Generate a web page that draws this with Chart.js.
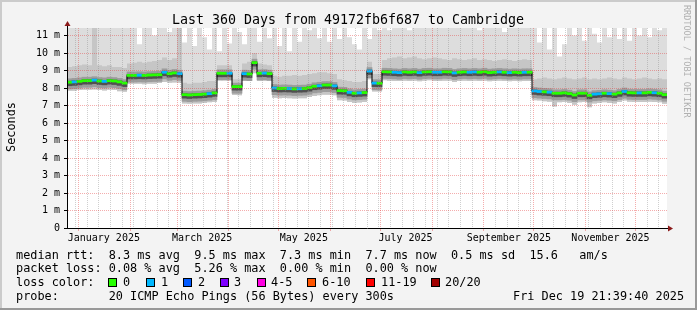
<!DOCTYPE html>
<html>
<head>
<meta charset="utf-8">
<script src="https://cdn.jsdelivr.net/npm/chart.js@4/dist/chart.umd.min.js"></script>
<style>
  html, body { margin: 0; padding: 0; background: #f3f3f3; }
  canvas { display: block; }
</style>
</head>
<body>
<canvas id="smokeChart" width="697" height="310"></canvas>
<script>
// one value per 3-day step, day 0 = Tue Dec 24 2024 21:39
var STEP = 3;

var median = [
  8.33, 8.35, 8.38, 8.42, 8.42, 8.45, 8.40, 8.38, 8.42, 8.40,
  8.35, 8.28, 8.72, 8.72, 8.73, 8.72, 8.74, 8.75, 8.76, 8.90,
  8.82, 8.86, 8.82, 7.62, 7.60, 7.62, 7.63, 7.65, 7.68, 7.72,
  8.84, 8.84, 8.84, 8.08, 8.08, 8.82, 8.80, 9.45, 8.84, 8.85,
  8.82, 8.00, 7.97, 7.98, 7.97, 7.95, 7.96, 7.97, 8.02, 8.10,
  8.13, 8.17, 8.17, 8.12, 7.85, 7.84, 7.75, 7.70, 7.72, 7.74,
  8.97, 8.28, 8.27, 8.93, 8.92, 8.90, 8.88, 8.92, 8.90, 8.92,
  8.88, 8.92, 8.93, 8.90, 8.90, 8.93, 8.92, 8.86, 8.90, 8.92,
  8.90, 8.92, 8.90, 8.93, 8.88, 8.90, 8.92, 8.90, 8.88, 8.90,
  8.88, 8.90, 8.90, 7.83, 7.80, 7.78, 7.76, 7.70, 7.70, 7.72,
  7.68, 7.60, 7.70, 7.70, 7.58, 7.65, 7.67, 7.70, 7.68, 7.65,
  7.72, 7.80, 7.73, 7.72, 7.72, 7.72, 7.75, 7.73, 7.70, 7.62
];

// lost pings per step (0 or 1 of 20)
var loss = [
  0, 1, 0, 0, 0, 1, 0, 1, 0, 0,
  0, 0, 0, 0, 1, 0, 0, 0, 0, 1,
  0, 0, 1, 0, 0, 0, 0, 0, 1, 0,
  0, 0, 1, 0, 0, 1, 0, 0, 0, 1,
  0, 1, 0, 0, 1, 0, 1, 0, 0, 0,
  1, 0, 0, 1, 0, 0, 1, 0, 1, 0,
  1, 1, 0, 0, 0, 1, 1, 0, 0, 0,
  1, 0, 0, 1, 1, 0, 0, 1, 0, 0,
  1, 1, 0, 0, 0, 0, 1, 0, 1, 0,
  0, 1, 0, 1, 1, 0, 1, 0, 0, 0,
  0, 0, 0, 0, 0, 1, 1, 0, 1, 0,
  0, 1, 0, 0, 1, 0, 0, 1, 0, 0
];

var smokeLow = [
  7.85, 7.85, 7.88, 7.90, 7.90, 7.92, 7.88, 7.86, 7.90, 7.88,
  7.82, 7.78, 8.25, 8.25, 8.25, 8.22, 8.25, 8.25, 8.28, 8.35,
  8.30, 8.32, 8.30, 7.12, 7.10, 7.12, 7.12, 7.15, 7.18, 7.20,
  8.45, 8.45, 8.45, 7.60, 7.58, 8.40, 8.40, 8.85, 8.40, 8.42,
  8.40, 7.45, 7.42, 7.43, 7.42, 7.40, 7.42, 7.42, 7.48, 7.55,
  7.58, 7.62, 7.62, 7.58, 7.30, 7.28, 7.20, 7.15, 7.17, 7.20,
  8.50, 7.80, 7.80, 8.45, 8.42, 8.40, 8.40, 8.42, 8.40, 8.42,
  8.38, 8.42, 8.45, 8.40, 8.40, 8.42, 8.42, 8.35, 8.40, 8.42,
  8.40, 8.42, 8.40, 8.42, 8.38, 8.40, 8.42, 8.40, 8.38, 8.40,
  8.38, 8.40, 8.40, 7.30, 7.28, 7.25, 7.22, 6.95, 7.18, 7.20,
  7.15, 7.05, 7.18, 7.20, 6.90, 7.12, 7.15, 7.18, 7.15, 7.12,
  7.20, 7.28, 7.22, 7.20, 7.20, 7.20, 7.22, 7.20, 7.18, 7.10
];

var smokeHigh = [
  9.20, 9.25, 9.30, 9.35, 9.30, 11.50, 9.30, 9.25, 9.30, 9.20,
  9.20, 9.15, 9.40, 9.45, 9.50, 9.45, 9.50, 9.55, 9.60, 9.75,
  9.60, 9.70, 11.50, 8.30, 8.25, 8.30, 8.30, 8.35, 8.40, 8.40,
  9.30, 9.30, 9.30, 8.50, 8.50, 9.40, 9.50, 10.00, 9.40, 9.35,
  9.30, 8.70, 8.65, 8.70, 8.70, 8.75, 8.70, 8.75, 8.80, 8.85,
  8.90, 8.90, 8.85, 8.80, 8.50, 8.45, 8.40, 8.35, 8.35, 8.40,
  9.50, 8.80, 8.80, 9.60, 9.70, 9.75, 9.80, 9.70, 9.75, 9.80,
  9.70, 9.65, 9.70, 9.75, 9.70, 9.65, 9.60, 9.70, 9.65, 9.60,
  9.65, 9.70, 9.60, 9.65, 9.60, 9.55, 9.60, 9.65, 9.60, 9.55,
  9.60, 9.65, 9.60, 8.50, 8.55, 8.60, 8.55, 8.50, 8.55, 8.60,
  8.55, 8.50, 8.55, 8.60, 8.50, 8.55, 8.50, 8.55, 8.60, 8.55,
  8.50, 8.60, 8.55, 8.50, 8.55, 8.60, 8.55, 8.50, 8.55, 8.50
];

// slowest ping per step (values above 11.43 ms run off the top)
var pingMax = [
  12, 12, 12, 12, 12, 12, 12, 12, 12, 12,
  12, 12, 12, 12, 10.5, 12, 12, 11.0, 12, 12,
  11.2, 12, 12, 10.6, 12, 10.4, 12, 10.9, 10.2, 12,
  10.1, 12, 10.55, 12, 11.2, 10.5, 12, 12, 10.65, 12,
  10.85, 12, 10.4, 12, 10.1, 12, 10.65, 12, 11.3, 12,
  10.85, 12, 10.65, 12, 10.8, 12, 10.9, 10.5, 10.2, 12,
  10.8, 12, 11.3, 12, 11.3, 12, 12, 12, 11.3, 12,
  12, 12, 12, 12, 12, 12, 12, 12, 12, 12,
  12, 12, 11.3, 12, 12, 12, 12, 11.2, 12, 12,
  12, 12, 12, 12, 10.6, 12, 10.2, 12, 9.8, 10.5,
  12, 11.0, 12, 10.7, 12, 11.1, 10.6, 12, 10.9, 12,
  10.8, 12, 10.7, 12, 11.0, 12, 10.9, 12, 11.3, 12
];

var monthStarts = [7.1, 38.1, 66.1, 97.1, 127.1, 158.1, 188.1, 219.1, 250.1, 280.1, 311.1, 341.1];
var monthLabelDays = [22.1, 81.1, 142.1, 203.1, 265.1, 326.1];
var monthLabels = ['January 2025', 'March 2025', 'May 2025', 'July 2025', 'September 2025', 'November 2025'];
var firstMonday = 5.1;

var lossColors = ['#26ff00', '#00b8ff'];
var lossLegend = [
  ['0', '#26ff00'], ['1', '#00b8ff'], ['2', '#0059ff'], ['3', '#7e00ff'],
  ['4-5', '#ff00e2'], ['6-10', '#ff5500'], ['11-19', '#ff0000'], ['20/20', '#a10000']
];

var title = 'Last 360 Days from 49172fb6f687 to Cambridge';
var statRows = [
  'median rtt:  8.3 ms avg  9.5 ms max  7.3 ms min  7.7 ms now  0.5 ms sd  15.6   am/s',
  'packet loss: 0.08 % avg  5.26 % max  0.00 % min  0.00 % now'
];
var probeText = 'probe:       20 ICMP Echo Pings (56 Bytes) every 300s';
var stampText = 'Fri Dec 19 21:39:40 2025';

var MONO = '"DejaVu Sans Mono", monospace';
var majorGrid = 'rgba(228, 60, 60, 0.42)';
var minorGrid = 'rgba(140, 140, 140, 0.42)';
var clear = 'rgba(0,0,0,0)';

function steps(values) {
  var pts = values.map(function (v, i) { return {x: i * STEP, y: v}; });
  pts.push({x: values.length * STEP, y: values[values.length - 1]});
  return pts;
}

function band(below, above) {
  return median.map(function (v, i) {
    return {x: i * STEP + STEP / 2, y: [v - below, v + above]};
  });
}

// x ticks: month starts (red), mondays (grey), mid-month label positions
var tickKind = {};
var xTicks = [];
monthStarts.forEach(function (d) { tickKind[d] = 'month'; xTicks.push(d); });
for (var d = firstMonday; d < 360; d += 7) {
  var w = Math.round(d * 10) / 10;
  var nearMonth = monthStarts.some(function (m) { return Math.abs(m - w) < 0.5; });
  if (!nearMonth) { tickKind[w] = 'week'; xTicks.push(w); }
}
var labelAt = {};
monthLabelDays.forEach(function (d, i) { tickKind[d] = 'label'; labelAt[d] = monthLabels[i]; xTicks.push(d); });
xTicks.sort(function (a, b) { return a - b; });

var decor = {
  id: 'decor',
  beforeDraw: function (chart) {
    var c = chart.ctx, a = chart.chartArea, W = chart.width, H = chart.height;
    c.save();
    c.fillStyle = '#f3f3f3';
    c.fillRect(0, 0, W, H);
    c.fillStyle = '#cbcbcb';
    c.fillRect(0, 0, W, 2);
    c.fillRect(0, 0, 2, H);
    c.fillStyle = '#999999';
    c.fillRect(0, H - 2, W, 2);
    c.fillRect(W - 2, 0, 2, H);
    c.fillStyle = '#ffffff';
    c.fillRect(a.left, a.top, a.right - a.left, a.bottom - a.top);
    c.restore();
  },
  afterDraw: function (chart) {
    var c = chart.ctx, a = chart.chartArea;
    c.save();
    // axis extensions and arrows
    c.strokeStyle = '#000';
    c.lineWidth = 1;
    c.beginPath();
    c.moveTo(a.left + 0.5, a.top);
    c.lineTo(a.left + 0.5, 24);
    c.moveTo(a.right, a.bottom + 0.5);
    c.lineTo(a.right + 3, a.bottom + 0.5);
    c.stroke();
    c.fillStyle = '#8b1a1a';
    c.beginPath();
    c.moveTo(a.left + 0.5 - 3, 26);
    c.lineTo(a.left + 0.5 + 3, 26);
    c.lineTo(a.left + 0.5, 21);
    c.closePath();
    c.fill();
    c.beginPath();
    c.moveTo(a.right + 1, a.bottom + 0.5 - 3);
    c.lineTo(a.right + 1, a.bottom + 0.5 + 3);
    c.lineTo(a.right + 6, a.bottom + 0.5);
    c.closePath();
    c.fill();

    c.fillStyle = '#000';
    c.textBaseline = 'alphabetic';
    c.font = '13.3px ' + MONO;
    c.textAlign = 'center';
    c.fillText(title, 348, 24);

    c.textAlign = 'left';
    c.font = '11.85px ' + MONO;
    c.fillText(statRows[0], 16, 258.5);
    c.fillText(statRows[1], 16, 272.3);
    c.fillText('loss color:', 16, 286);
    c.fillText(probeText, 16, 299.8);
    c.fillText(stampText, 513, 299.8);

    var boxX = [108, 146, 183, 220, 257, 307, 366, 431];
    var textX = [123, 161, 198, 234, 271, 322, 381, 445];
    lossLegend.forEach(function (item, i) {
      c.fillStyle = item[1];
      c.fillRect(boxX[i] + 0.5, 278.5, 8, 8);
      c.strokeStyle = '#000';
      c.strokeRect(boxX[i] + 0.5, 278.5, 8, 8);
      c.fillStyle = '#000';
      c.fillText(item[0], textX[i], 286);
    });

    c.save();
    c.translate(15, 127);
    c.rotate(-Math.PI / 2);
    c.textAlign = 'center';
    c.fillText('Seconds', 0, 0);
    c.restore();

    c.save();
    c.translate(684, 5);
    c.rotate(Math.PI / 2);
    c.fillStyle = '#b0b0b0';
    c.font = '8.5px ' + MONO;
    c.textAlign = 'left';
    c.fillText('RRDTOOL / TOBI OETIKER', 0, 0);
    c.restore();
    c.restore();
  }
};

var ctx = document.getElementById('smokeChart').getContext('2d');
var smokeChart = new Chart(ctx, {
  type: 'line',
  data: {
    datasets: [
      { label: 'low', data: steps(smokeLow), stepped: true, borderWidth: 0, pointRadius: 0, fill: false, order: 6 },
      { label: 'max', data: steps(pingMax), stepped: true, borderWidth: 0, pointRadius: 0,
        fill: 0, backgroundColor: '#dddddd', order: 5 },
      { label: 'high', data: steps(smokeHigh), stepped: true, borderWidth: 0, pointRadius: 0,
        fill: 0, backgroundColor: '#c6c6c6', order: 4 },
      { type: 'bar', label: 'halo', data: band(0.38, 0.2), xAxisID: 'xb',
        backgroundColor: '#9c9c9c', barPercentage: 1, categoryPercentage: 1, grouped: false, order: 3 },
      { type: 'bar', label: 'core', data: band(0.2, 0.06), xAxisID: 'xb',
        backgroundColor: '#505050', barPercentage: 1, categoryPercentage: 1, grouped: false, order: 2 },
      { label: 'median', data: steps(median), stepped: true, borderWidth: 1, borderColor: '#000',
        pointRadius: 0, fill: false, order: 1 },
      { type: 'bar', label: 'loss', data: band(0.06, 0.06), xAxisID: 'xb',
        backgroundColor: loss.map(function (l) { return lossColors[l]; }),
        barPercentage: 1, categoryPercentage: 1, grouped: false, order: 0 }
    ]
  },
  options: {
    responsive: false,
    animation: false,
    devicePixelRatio: 1,
    events: [],
    layout: { autoPadding: false, padding: { top: 28, right: 30, bottom: 0, left: 0 } },
    plugins: { legend: { display: false }, tooltip: { enabled: false } },
    scales: {
      x: {
        type: 'linear', min: 0, max: 360, position: 'bottom', offset: false,
        afterFit: function (s) { s.height = 82; },
        afterBuildTicks: function (s) { s.ticks = xTicks.map(function (v) { return {value: v}; }); },
        grid: {
          z: 1, tickLength: 3, offset: false,
          color: function (c) { var k = c.tick && tickKind[c.tick.value]; return k === 'month' ? majorGrid : k === 'week' ? minorGrid : clear; },
          tickColor: function (c) { var k = c.tick && tickKind[c.tick.value]; return k === 'month' ? majorGrid : clear; }
        },
        border: { z: 2, color: '#000', dash: [1, 1] },
        ticks: {
          z: 2, autoSkip: false, maxRotation: 0, padding: 1, color: '#000',
          font: { family: MONO, size: 10 },
          callback: function (v) { return labelAt[v] || ''; }
        }
      },
      xb: { type: 'linear', min: 0, max: 360, display: false, offset: false, grid: { offset: false } },
      y: {
        type: 'linear', min: 0, max: 11.43,
        afterFit: function (s) { s.width = 67; },
        grid: {
          z: 1, tickLength: 3,
          color: function (c) { var v = c.tick.value; return v === 0 ? clear : (v % 1 === 0 ? majorGrid : minorGrid); },
          tickColor: function (c) { return c.tick.value % 1 === 0 ? '#000' : clear; }
        },
        border: { z: 2, color: '#000', dash: [1, 1] },
        ticks: {
          z: 2, stepSize: 0.5, includeBounds: false, padding: 4, color: '#000',
          font: { family: MONO, size: 10 },
          callback: function (v) { return v % 1 !== 0 ? '' : (v === 0 ? '0' : v + ' m'); }
        }
      }
    }
  },
  plugins: [decor]
});
</script>
</body>
</html>
